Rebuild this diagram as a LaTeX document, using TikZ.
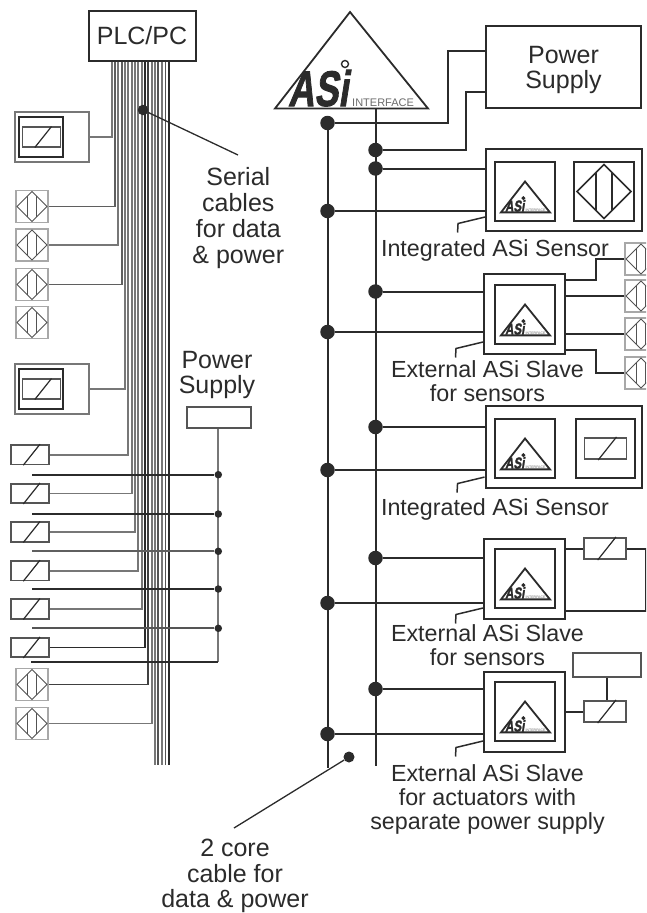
\documentclass[tikz,border=0pt]{standalone}
\usepackage{fontspec}
\setmainfont{Liberation Sans}
\newfontfamily\logofont[FakeBold=2,FakeSlant=.22]{Liberation Sans Bold}
\usetikzlibrary{positioning}
\definecolor{ink}{HTML}{2B2B2B}
\definecolor{midgray}{HTML}{777777}
\definecolor{lightgray}{HTML}{A8A8A8}
\tikzset{
 wire/.style={draw=ink,line width=2pt},
 cable/.style={line width=1.9pt},
 dot/.style={circle,fill=ink,inner sep=0pt,minimum size=14.5pt},
 smalldot/.style={circle,fill=ink,inner sep=0pt,minimum size=7.5pt},
 frame/.style={draw=ink,line width=2pt,fill=white,inner sep=0pt},
 frameleft/.style={draw=midgray,line width=1.6pt,fill=white,inner sep=0pt},
 biglabel/.style={text=ink,align=center,inner sep=0pt,font=\fontsize{25}{25.5}\selectfont},
 label/.style={text=ink,align=center,inner sep=0pt,font=\fontsize{23.3}{24}\selectfont},
 diamondmark/.pic={
  \draw (-15,0)--(0,-15)--(15,0)--(0,15)--cycle;
  \draw (-4.5,-10.5)--(-4.5,10.5) (4.5,-10.5)--(4.5,10.5);
 },
 sensorcell/.pic={
  \node[draw=lightgray,line width=1.4pt,fill=white,minimum size=32pt,inner sep=0pt] (-box) {};
  \pic[line width=1pt,color=midgray!70!black] {diamondmark};
 },
 relay/.pic={
  \node[draw=ink!80,line width=1.6pt,fill=white,transform shape,inner sep=0pt,minimum width=38pt,minimum height=19.5pt] (-box) {};
  \draw[ink,line width=1.2pt] (-6.7,10.5)--(10,-10.5);
 },
 asilogo/.pic={
  \draw[ink,line width=1.8pt,line join=miter] (0,0)--(-75,96.5)--(78,96.5)--cycle;
  \node[anchor=base west,inner sep=0pt,text=ink,xscale=.72,transform shape,font=\fontsize{50}{50}\logofont\selectfont] (-name) at (-62,94) {ASi};
  \draw[ink,line width=1.4pt] (-5,52) circle (3.5);
  \node[anchor=base west,inner sep=0pt,text=ink!70,transform shape,font=\fontsize{11}{11}\selectfont] (-sub) at (2,94) {INTERFACE};
 },
 asicell/.pic={
  \node[frame,minimum width=60pt,minimum height=59pt] (-box) {};
  \pic[scale=.32] at (0,-10) {asilogo};
 },
}
\begin{document}
\begin{tikzpicture}[x=1pt,y=-1pt]
\useasboundingbox (0,0) rectangle (646,913);
\clip (0,0) rectangle (646,913);
% left side
\node[frame,minimum width=107pt,minimum height=50pt] (plc) at (142,36) {};
\node[biglabel] (plctext) at (plc) {PLC/PC};
\foreach \n/\ly in {1/137,2/389}{
 \node[frameleft,minimum width=74pt,minimum height=50pt] (lb\n) at (52,\ly) {};
 \node[draw=ink,line width=1.4pt,minimum width=44pt,minimum height=40pt,inner sep=0pt] (li\n) at (41,\ly) {};
 \pic (lr\n) at (41.5,\ly) {relay};
}
\foreach \sy [count=\n] in {206.5,245,284.5,322.5,684.5,723.5}
 \pic (ls\n) at (32,\sy) {sensorcell};
\foreach \sy [count=\n] in {454.7,493.5,532,570.7,609,647.5}
 \pic (lr\n x) at (30,\sy) {relay};
\coordinate (cabend) at (0,765);
% cables
\foreach \cx/\tgt/\col in {111.7/lb1.east/midgray,115/ls1-box.east/midgray!80!black,118.3/ls2-box.east/midgray,
 121.7/ls3-box.east/midgray!80!black,125/lb2.east/midgray,128.3/lr1x-box.east/midgray,131.7/lr2x-box.east/midgray,
 135/lr3x-box.east/midgray,138.3/lr4x-box.east/midgray,141.7/lr5x-box.east/midgray,145/lr6x-box.east/ink,
 148.3/ls5-box.east/ink!90,151.7/ls6-box.east/midgray}
 \draw[cable,\col] (\cx,0 |- plc.south) |- (\tgt);
\foreach \cx/\col in {155/midgray,158.4/ink!80,162/midgray,165.5/ink!80,169/ink}
 \draw[cable,\col] (\cx,0 |- plc.south) -- (\cx,0 |- cabend);
% local power
\node[frameleft,draw=ink!80,minimum width=64pt,minimum height=21pt] (lps) at (219,417.5) {};
\node[biglabel] (lpstext) at (217,375) {Power\\Supply};
\coordinate (lpsend) at (218.3,662.3);
\draw[wire,draw=midgray] (lps.south -| lpsend) -- (lpsend);
\foreach \py/\col [count=\n] in {474.7/ink,514/ink,551.3/midgray!80!black,589/ink,628.3/ink!80}{
 \node[smalldot] (pd\n) at (218.3,\py) {};
 \coordinate (pl\n) at (32,\py);
 \draw[cable,\col] (pl\n) -- (pd\n);
}
\coordinate (pl6) at (31,662.3);
\draw[cable,ink] (pl6) -- (lpsend);
\node[smalldot,minimum size=10.5pt] (serdot) at (143,110) {};
\coordinate (serend) at (238,155);
\draw[ink,line width=1.3pt] (serdot) -- (serend);
\node[biglabel,font=\fontsize{25}{26}\selectfont] (sertext) at (238.3,218) {Serial\\cables\\for data\\\& power};
% main logo
\pic (main) at (350,12) {asilogo};
\node[frame,minimum width=155pt,minimum height=82pt] (ps) at (563.5,67) {};
\node[biglabel] (pstext) at (563.5,70) {Power\\Supply};
% bus dots
\foreach \n/\dy in {1/123,2/211,3/332,4/470,5/603,6/734}
 \node[dot] (a\n) at (327.5,\dy) {};
\foreach \n/\dy in {1/150,2/168.5,3/291.5,4/427,5/558,6/689}
 \node[dot] (b\n) at (375.5,\dy) {};
\coordinate (atop) at (327.5,123);
\coordinate (btop) at (375.5,109);
\coordinate (aend) at (327.5,768);
\coordinate (bend) at (375.5,766);
\draw[wire] (atop) -- (aend);
\draw[wire] (btop) -- (bend);
\draw[wire] (a1) -| (448,51) -- (448,51 -| ps.west);
\draw[wire] (b1) -| (465.5,92) -- (465.5,92 -| ps.west);
% modules
\node[frame,minimum width=155.5pt,minimum height=82pt] (int1) at (563.8,190) {};
\node[frame,minimum width=81pt,minimum height=80pt] (ext1) at (524.5,314) {};
\node[frame,minimum width=156.5pt,minimum height=82.5pt] (int2) at (563.8,446.8) {};
\node[frame,minimum width=81pt,minimum height=80pt] (ext2) at (524.5,579) {};
\node[frame,minimum width=81pt,minimum height=80pt] (ext3) at (524.5,712) {};
\foreach \cname/\cy in {c1/191.5,c2/314.5,c3/448.5,c4/578.5,c5/711.5}
 \pic (\cname) at (525,\cy) {asicell};
\node[frame,minimum width=60pt,minimum height=59pt] (c1b) at (604,191.5) {};
\pic[scale=1.8,line width=1.7pt,color=ink] at (c1b) {diamondmark};
\node[frame,minimum width=59pt,minimum height=59pt] (c3b) [right=19pt of c3-box] {};
\pic[scale=1.1] (r3) at (c3b) {relay};
\foreach \a/\b/\tgt in {a2/b2/int1,a3/b3/ext1,a4/b4/int2,a5/b5/ext2,a6/b6/ext3}{
 \draw[wire] (\a) -- (\a -| \tgt.west);
 \draw[wire] (\b) -- (\b -| \tgt.west);
}
\foreach \tgt/\off in {int1/15,ext1/13,int2/12,ext2/12,ext3/12}
 \draw[ink,line width=1.5pt] ([yshift=\off pt]\tgt.south west) -- ++(-27,6.5) -- ++(-.5,9);
% sensors at the right edge
\foreach \sy [count=\n] in {259,296,334,373}
 \pic (rs\n) at (641,\sy) {sensorcell};
\draw[wire] ([yshift=34pt]ext1.east) -- ++(30,0) |- (rs1-box.west);
\draw[wire] (rs2-box.west) -- (rs2-box.west -| ext1.east);
\draw[wire] (rs3-box.west) -- (rs3-box.west -| ext1.east);
\draw[wire] ([yshift=-36pt]ext1.east) -- ++(30,0) |- (rs4-box.west);
% relays at the right
\pic[scale=1.1] (r4) at (605,548.5) {relay};
\draw[wire] (r4-box.west) -- (r4-box.west -| ext2.east);
\draw[wire] (r4-box.east) -- ++(19,0) |- ([yshift=-32pt]ext2.east);
\node[frame,draw=ink!80,line width=1.6pt,minimum width=68pt,minimum height=24pt] (actps) at (607,665) {};
\pic[scale=1.1] (r5) at (605,711.5) {relay};
\draw[wire] (actps.south) -- (actps.south |- r5-box.north);
\draw[wire] (r5-box.west) -- (r5-box.west -| ext3.east);
% labels
\node[label] (t1) at (495,250) {Integrated ASi Sensor};
\node[label] (t2) at (487.5,381) {External ASi Slave\\for sensors};
\node[label] (t3) at (495,509) {Integrated ASi Sensor};
\node[label] (t4) at (487.5,645) {External ASi Slave\\for sensors};
\node[label] (t5) at (487.5,799) {External ASi Slave\\for actuators with\\separate power supply};
\node[smalldot,minimum size=11pt] (coredot) at (349,757) {};
\coordinate (coreend) at (234,828);
\draw[ink,line width=1.3pt] (coredot) -- (coreend);
\node[biglabel] (coretext) at (235,876) {2 core\\cable for\\data \& power};
\end{tikzpicture}
\end{document}
